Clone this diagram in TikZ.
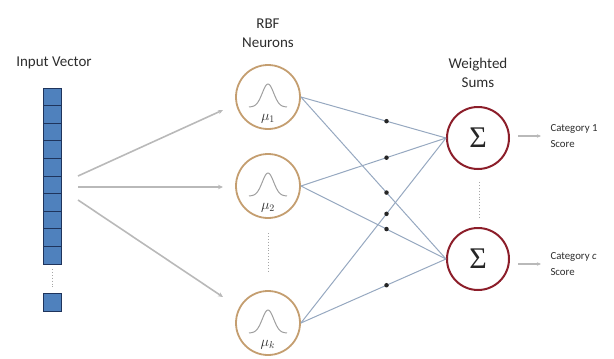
\documentclass[tikz,border=0pt]{standalone}
\usepackage{fontspec}
\setmainfont{Carlito}
\newfontfamily\sigfont{Liberation Serif}
\usetikzlibrary{arrows.meta}
\definecolor{neuronc}{RGB}{196,158,112}
\definecolor{sumc}{RGB}{140,30,42}
\definecolor{cellfill}{RGB}{79,129,189}
\definecolor{celldraw}{RGB}{31,52,92}
\definecolor{linkc}{RGB}{150,168,192}
\definecolor{arrowc}{RGB}{185,185,185}
\definecolor{txtc}{RGB}{45,45,45}
\tikzset{
  cell/.style={draw=celldraw, fill=cellfill, line width=0.9pt, minimum width=18pt, minimum height=17.6pt, inner sep=0pt, outer sep=0pt},
  neuron/.style={circle, draw=neuronc, line width=1.8pt, minimum size=64pt, inner sep=0pt},
  sumnode/.style={circle, draw=sumc, line width=2pt, minimum size=62pt, inner sep=0pt, text=black!85, font=\sigfont\fontsize{30}{30}\selectfont},
  head/.style={align=center, text=txtc, font=\fontsize{15}{19.5}\selectfont},
  cat/.style={align=left, anchor=west, text=txtc, font=\fontsize{10.8}{16}\selectfont},
  inarrow/.style={draw=arrowc, line width=1.6pt, -{Stealth[length=5pt,width=4.5pt]}},
  outarrow/.style={draw=arrowc, line width=1.1pt, -{Stealth[length=4pt,width=3.5pt]}},
  link/.style={draw=linkc, line width=1pt},
  wdot/.style={circle, fill=black!85, inner sep=0pt, minimum size=4.5pt},
  bell/.style={draw=gray!75, line width=1pt},
  dots/.style={draw=gray!70, line width=0.9pt, dotted},
  mulab/.style={font=\fontsize{14}{14}\selectfont, text=txtc}
}
\begin{document}
\begin{tikzpicture}[x=1pt,y=-1pt]
\useasboundingbox (0,0) rectangle (614,359);

% headings
\node[head] (hin) at (54,63) {Input Vector};
\node[head] (hrbf) at (268,33) {RBF\\Neurons};
\node[head] (hsum) at (478,73) {Weighted\\Sums};

% input vector
\foreach \i in {0,...,9}{
  \node[cell] (c\i) at (52,{96.8+17.6*\i}) {};
}
\node[cell, minimum height=18pt] (clast) at (52,302) {};
\coordinate (vd1) at (52,269);
\coordinate (vd2) at (52,288);
\draw[dots] (vd1) -- (vd2);

% neurons
\node[neuron] (n1) at (268,97) {};
\node[neuron] (n2) at (268,186) {};
\node[neuron] (n3) at (268,323) {};
\foreach \n/\lab in {n1/1,n2/2,n3/k}{
  \draw[bell, shift={(\n.center)}] plot[domain=-19:19, samples=60, smooth] (\x,{10-23*exp(-(\x*\x)/65)});
  \node[mulab] at ([yshift=-22pt]\n.center) {$\mu_{\lab}$};
}
\coordinate (nd1) at (268,233);
\coordinate (nd2) at (268,271);
\draw[dots] (nd1) -- (nd2);

% sums
\node[sumnode] (s1) at (478,138) {Σ};
\node[sumnode] (s2) at (478,259) {Σ};
\coordinate (sd1) at (479,182);
\coordinate (sd2) at (479,217);
\draw[dots] (sd1) -- (sd2);

% input arrows
\coordinate (a1s) at (78,176);
\coordinate (a2s) at (78,187);
\coordinate (a3s) at (78,200);
\coordinate (a1e) at (223,110);
\coordinate (a2e) at (223,187);
\coordinate (a3e) at (223,297);
\draw[inarrow] (a1s) -- (a1e);
\draw[inarrow] (a2s) -- (a2e);
\draw[inarrow] (a3s) -- (a3e);

% links
\foreach \n in {n1,n2,n3}{
  \foreach \s in {s1,s2}{
    \draw[link] (\n.east) -- (\s.west) node[wdot, pos=0.59] {};
  }
}

% outputs
\coordinate (o1s) at (518,136);
\coordinate (o1e) at (541,136);
\coordinate (o2s) at (518,264);
\coordinate (o2e) at (541,264);
\draw[outarrow] (o1s) -- (o1e);
\draw[outarrow] (o2s) -- (o2e);
\node[cat] (cat1) at (547,136.5) {Category 1\\Score};
\node[cat] (catc) at (547,264) {Category \textit{c}\\Score};
\end{tikzpicture}
\end{document}
